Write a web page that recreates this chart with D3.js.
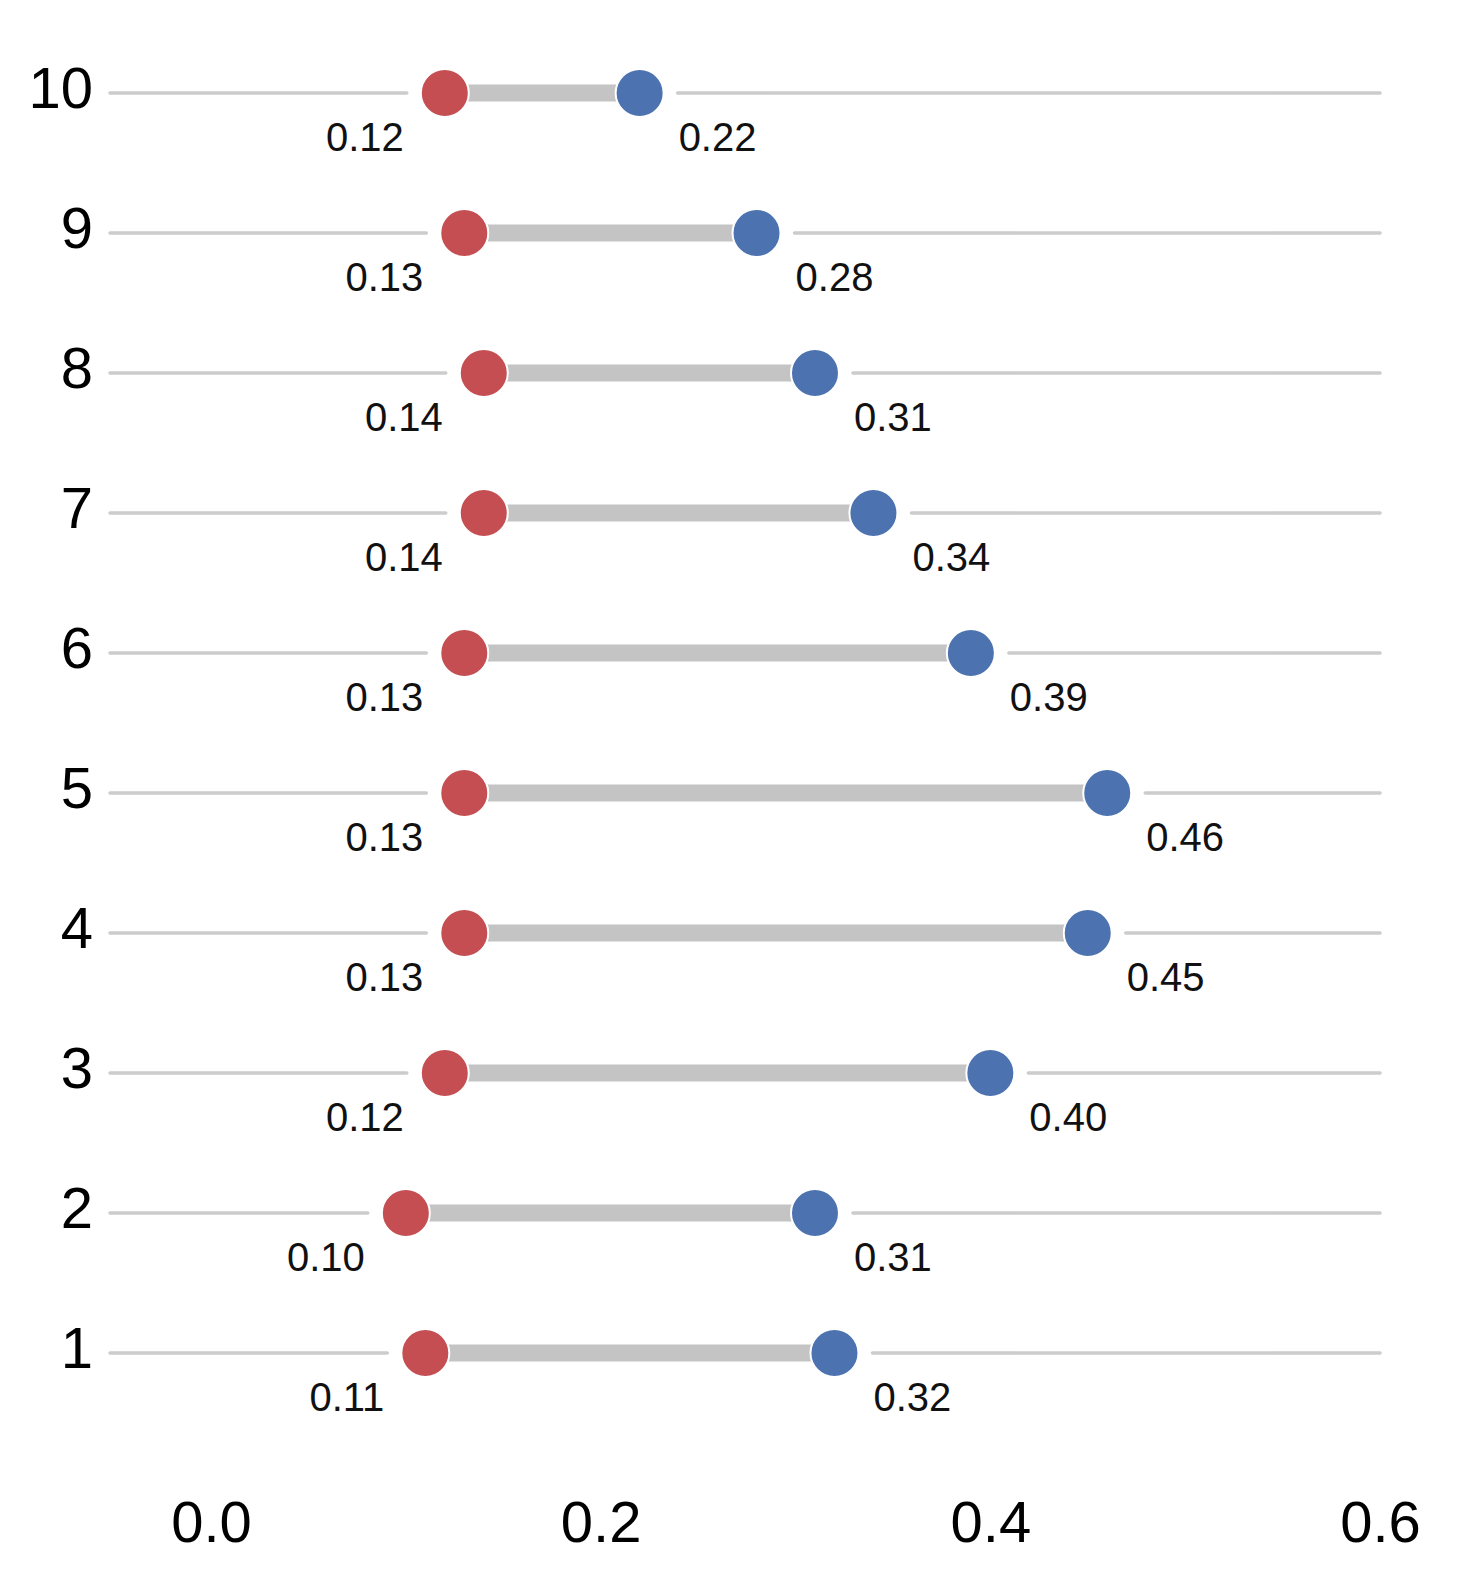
<!DOCTYPE html>
<html>
<head>
<meta charset="utf-8">
<script src="https://cdn.jsdelivr.net/npm/d3@7"></script>
<style>
  body { margin: 0; background: #fff; }
  svg { display: block; font-family: "Liberation Sans", Arial, sans-serif; }
</style>
</head>
<body>
<svg width="1474" height="1583"></svg>
<script>
var svg = d3.select("svg");

// data, rows 1..10 bottom to top
var rows = [1, 2, 3, 4, 5, 6, 7, 8, 9, 10];
var startVals = [0.11, 0.10, 0.12, 0.13, 0.13, 0.13, 0.14, 0.14, 0.13, 0.12];
var endVals = [0.32, 0.31, 0.40, 0.45, 0.46, 0.39, 0.34, 0.31, 0.28, 0.22];
var xTicks = [0.0, 0.2, 0.4, 0.6];

var data = rows.map(function (r, i) {
  return { row: r, start: startVals[i], end: endVals[i] };
});

var red = "#c44e52";
var blue = "#4c72b0";
var gap = 38;
var gridLeft = 110;

var xscale = d3.scaleLinear().domain([0, 0.6]).range([211, 1380]);
var yscale = d3.scalePoint().domain(rows).range([1353, 93]);

// thin grid lines, broken around the dumbbell
var rowG = svg.selectAll(".row").data(data).enter()
  .append("g")
  .attr("class", "row");

rowG.append("line")
  .attr("x1", gridLeft)
  .attr("x2", function (d) { return xscale(d.start) - gap; })
  .attr("y1", function (d) { return yscale(d.row); })
  .attr("y2", function (d) { return yscale(d.row); })
  .attr("stroke", "#cccccc")
  .attr("stroke-width", 3.5)
  .attr("stroke-linecap", "round");

rowG.append("line")
  .attr("x1", function (d) { return xscale(d.end) + gap; })
  .attr("x2", xscale(0.6))
  .attr("y1", function (d) { return yscale(d.row); })
  .attr("y2", function (d) { return yscale(d.row); })
  .attr("stroke", "#cccccc")
  .attr("stroke-width", 3.5)
  .attr("stroke-linecap", "round");

// thick connector
rowG.append("line")
  .attr("x1", function (d) { return xscale(d.start); })
  .attr("x2", function (d) { return xscale(d.end); })
  .attr("y1", function (d) { return yscale(d.row); })
  .attr("y2", function (d) { return yscale(d.row); })
  .attr("stroke", "#c4c4c4")
  .attr("stroke-width", 17);

rowG.append("circle")
  .attr("cx", function (d) { return xscale(d.start); })
  .attr("cy", function (d) { return yscale(d.row); })
  .attr("r", 24)
  .attr("fill", red)
  .attr("stroke", "#fff")
  .attr("stroke-width", 2);

rowG.append("circle")
  .attr("cx", function (d) { return xscale(d.end); })
  .attr("cy", function (d) { return yscale(d.row); })
  .attr("r", 24)
  .attr("fill", blue)
  .attr("stroke", "#fff")
  .attr("stroke-width", 2);

// value labels
rowG.append("text")
  .attr("x", function (d) { return xscale(d.start) - 41; })
  .attr("y", function (d) { return yscale(d.row) + 58; })
  .attr("text-anchor", "end")
  .attr("font-size", 40)
  .attr("fill", "#111")
  .text(function (d) { return d.start.toFixed(2); });

rowG.append("text")
  .attr("x", function (d) { return xscale(d.end) + 39; })
  .attr("y", function (d) { return yscale(d.row) + 58; })
  .attr("text-anchor", "start")
  .attr("font-size", 40)
  .attr("fill", "#111")
  .text(function (d) { return d.end.toFixed(2); });

// y axis labels
var yAxis = svg.append("g")
  .attr("transform", "translate(" + gridLeft + ",0)")
  .call(d3.axisLeft(yscale).tickSize(0).tickPadding(17));
yAxis.select(".domain").remove();
yAxis.selectAll("text")
  .attr("font-size", 58)
  .attr("font-family", "Liberation Sans, Arial, sans-serif")
  .attr("fill", "#000")
  .attr("dy", "0.25em");

// x axis labels
var xAxis = svg.append("g")
  .attr("transform", "translate(0,1500)")
  .call(d3.axisBottom(xscale).tickValues(xTicks).tickSize(0).tickPadding(0)
    .tickFormat(d3.format(".1f")));
xAxis.select(".domain").remove();
xAxis.selectAll("text")
  .attr("font-size", 58)
  .attr("font-family", "Liberation Sans, Arial, sans-serif")
  .attr("fill", "#000")
  .attr("dy", "0.72em");
</script>
</body>
</html>
